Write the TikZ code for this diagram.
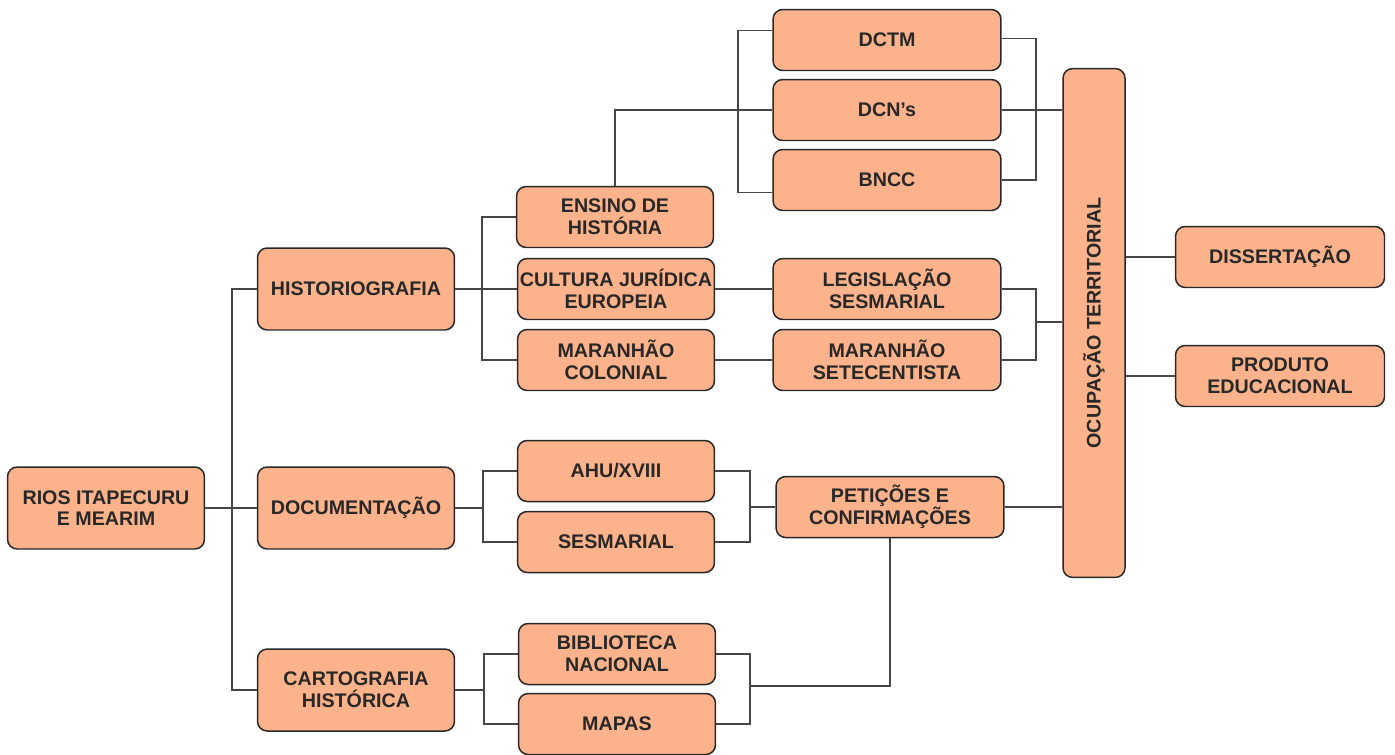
\documentclass[tikz,border=0pt]{standalone}
\usepackage{fontspec}
\setmainfont{Liberation Sans}
\usetikzlibrary{calc}
\definecolor{peach}{RGB}{252,178,138}
\definecolor{ink}{RGB}{40,40,40}
\definecolor{wire}{RGB}{70,70,70}

\begin{document}
\begin{tikzpicture}[x=0.02cm, y=-0.02cm, thick,
  main/.style = {draw=ink, line width=0.85pt, fill=peach, rounded corners=5.5pt, align=center, inner sep=1pt, text=ink, font=\fontsize{11.2}{12.3}\selectfont\bfseries},
  big/.style = {main, minimum width=3.94cm, minimum height=1.64cm},
  mid/.style = {main, minimum width=3.94cm, minimum height=1.22cm},
  wide/.style = {main, minimum width=4.56cm, minimum height=1.22cm},
  outp/.style = {main, minimum width=4.18cm, minimum height=1.22cm},
  line/.style = {draw=wire, line width=0.75pt}]
\useasboundingbox (0,0) rectangle (1395,754);
\node[big] (rios) at (106,508) {RIOS ITAPECURU\\E MEARIM};
\node[big] (hist) at (356,289) {HISTORIOGRAFIA};
\node[big] (doc) at (356,508) {DOCUMENTAÇÃO};
\node[big] (carto) at (356,690) {CARTOGRAFIA\\HISTÓRICA};
\node[mid] (ensino) at (615,217) {ENSINO DE\\HISTÓRIA};
\node[mid] (cult) at (616,289) {CULTURA JURÍDICA\\EUROPEIA};
\node[mid] (marcol) at (616,360) {MARANHÃO\\COLONIAL};
\node[mid] (ahu) at (616,471) {AHU/XVIII};
\node[mid] (sesm) at (616,542) {SESMARIAL};
\node[mid] (bib) at (617,654) {BIBLIOTECA\\NACIONAL};
\node[mid] (mapas) at (617,724) {MAPAS};
\node[wide] (dctm) at (887,40) {DCTM};
\node[wide] (dcns) at (887,110) {DCN’s};
\node[wide] (bncc) at (887,180) {BNCC};
\node[wide] (legis) at (887,289) {LEGISLAÇÃO\\SESMARIAL};
\node[wide] (marset) at (887,360) {MARANHÃO\\SETECENTISTA};
\node[wide] (pet) at (890,507) {PETIÇÕES E\\CONFIRMAÇÕES};
\node[main, minimum width=1.24cm, minimum height=10.18cm] (ocup) at (1094,323) {\rotatebox{90}{OCUPAÇÃO TERRITORIAL}};
\node[outp] (diss) at (1280,257) {DISSERTAÇÃO};
\node[outp] (prod) at (1280,376) {PRODUTO\\EDUCACIONAL};
% bus points
\coordinate (b1) at (232,508);
\coordinate (b2) at (482,289);
\coordinate (b3) at (738,110);
\coordinate (b4) at (1036,110);
\coordinate (b5) at (1036,322);
\coordinate (b6) at (483,508);
\coordinate (b7) at (750,507);
\coordinate (b8) at (750,686);
\coordinate (b9) at (484,690);
% connectors
\draw[line] (rios.east) -- (b1);
\draw[line] (hist.west) -| (b1) |- (carto.west);
\draw[line] (b1) -- (doc.west);
\draw[line] (hist.east) -- (cult.west);
\draw[line] (ensino.west) -| (b2) |- (marcol.west);
\draw[line] (ensino.north) |- (dcns.west);
\draw[line] ([yshift=5.5pt]dctm.west) -| (b3) |- ([yshift=-7pt]bncc.west);
\draw[line] ([yshift=1pt]dctm.east) -| (b4) |- (bncc.east);
\draw[line] (dcns.east) -- (dcns.east -| ocup.west);
\draw[line] (cult.east) -- (legis.west);
\draw[line] (marcol.east) -- (marset.west);
\draw[line] (legis.east) -| (b5) |- (marset.east);
\draw[line] (b5) -- (b5 -| ocup.west);
\draw[line] (doc.east) -- (b6);
\draw[line] (ahu.west) -| (b6) |- (sesm.west);
\draw[line] (ahu.east) -| (b7) |- (sesm.east);
\draw[line] (b7) -- (pet.west);
\draw[line] (pet.south) |- (b8);
\draw[line] (bib.east) -| (b8) |- (mapas.east);
\draw[line] (carto.east) -- (b9);
\draw[line] (bib.west) -| (b9) |- (mapas.west);
\draw[line] (pet.east) -- (pet.east -| ocup.west);
\draw[line] (diss.west -| ocup.east) -- (diss.west);
\draw[line] (prod.west -| ocup.east) -- (prod.west);
\end{tikzpicture}
\end{document}
